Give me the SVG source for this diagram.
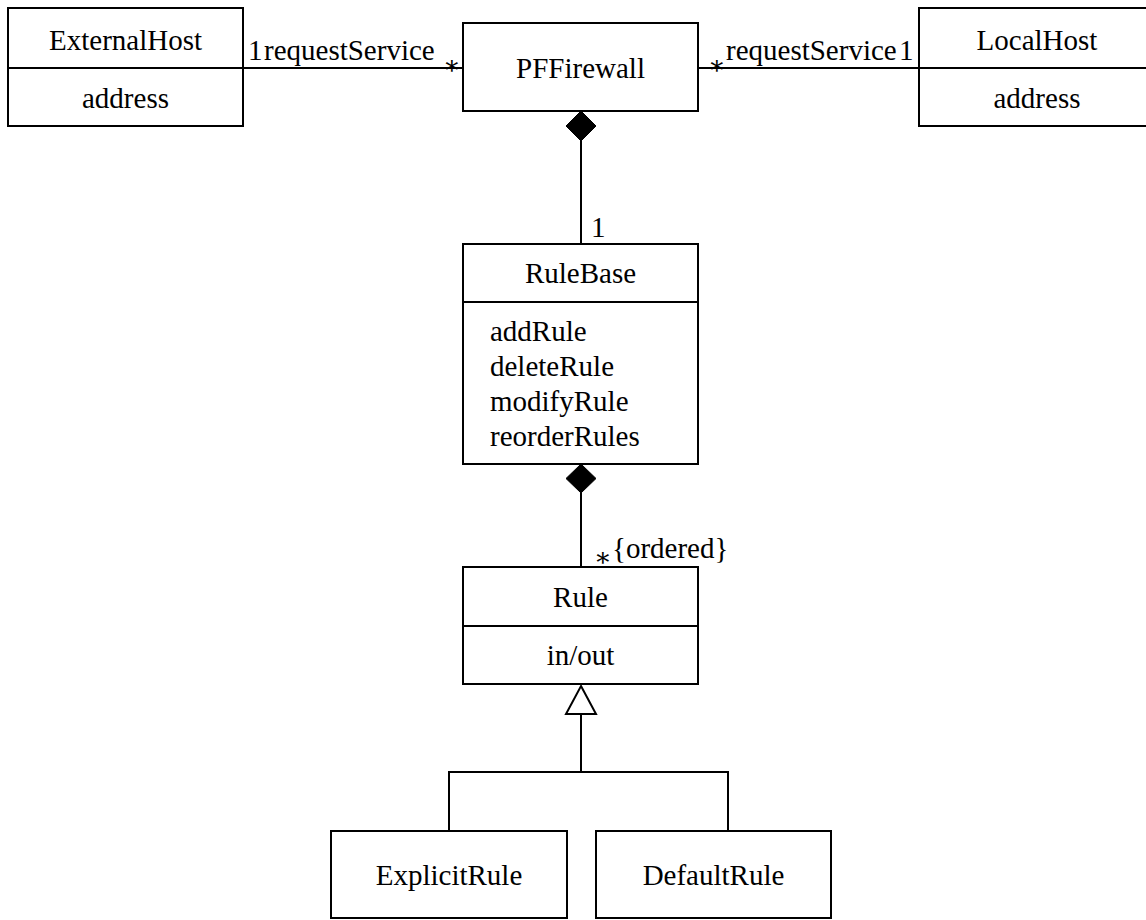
<svg xmlns="http://www.w3.org/2000/svg" width="1146" height="920" viewBox="0 0 1146 920">
<style>
.box{fill:#fff;stroke:#000;stroke-width:2}
.ln{fill:none;stroke:#000;stroke-width:2}
text{font-size:29px;fill:#000}
.c{text-anchor:middle}
.ast{font-size:26px}
</style>
<rect width="1146" height="920" fill="#fff"/>
<g font-family="Liberation Serif, Times New Roman, DejaVu Serif, serif">
<g id="connectors">
<line class="ln" x1="243" y1="68" x2="463" y2="68"/>
<line class="ln" x1="698" y1="68" x2="919" y2="68"/>
<line class="ln" x1="581" y1="141" x2="581" y2="244"/>
<polygon points="581,111 596,126 581,141 566,126" fill="#000" stroke="#000" stroke-width="1"/>
<line class="ln" x1="581" y1="493" x2="581" y2="567"/>
<polygon points="581,464 596,478.5 581,493 566,478.5" fill="#000" stroke="#000" stroke-width="1"/>
<polyline class="ln" points="449,831 449,772 728,772 728,831"/>
<line class="ln" x1="581" y1="714" x2="581" y2="772"/>
<polygon points="581,686 596,714 566,714" fill="#fff" stroke="#000" stroke-width="2"/>
<text x="248" y="60">1</text>
<text x="264" y="60">requestService</text>
<text class="ast" x="443" y="74">∗</text>
<text class="ast" x="708" y="74">∗</text>
<text x="726" y="60">requestService</text>
<text x="899" y="60">1</text>
<text x="591" y="237">1</text>
<text class="ast" x="594" y="566">∗</text>
<text x="612" y="558">{ordered}</text>
</g>
<g id="ExternalHost">
<rect class="box" x="8" y="8" width="235" height="118"/>
<line class="ln" x1="8" y1="68" x2="243" y2="68"/>
<text class="c" x="125.5" y="50">ExternalHost</text>
<text class="c" x="125.5" y="108">address</text>
</g>
<g id="PFFirewall">
<rect class="box" x="463" y="23" width="235" height="88"/>
<text class="c" x="580.5" y="78">PFFirewall</text>
</g>
<g id="LocalHost">
<rect class="box" x="919" y="8" width="236" height="118"/>
<line class="ln" x1="919" y1="68" x2="1155" y2="68"/>
<text class="c" x="1037" y="50">LocalHost</text>
<text class="c" x="1037" y="108">address</text>
</g>
<g id="RuleBase">
<rect class="box" x="463" y="244" width="235" height="220"/>
<line class="ln" x1="463" y1="302" x2="698" y2="302"/>
<text class="c" x="580.5" y="283">RuleBase</text>
<text x="490" y="341">addRule</text>
<text x="490" y="376">deleteRule</text>
<text x="490" y="411">modifyRule</text>
<text x="490" y="446">reorderRules</text>
</g>
<g id="Rule">
<rect class="box" x="463" y="567" width="235" height="117"/>
<line class="ln" x1="463" y1="626" x2="698" y2="626"/>
<text class="c" x="580.5" y="607">Rule</text>
<text class="c" x="580.5" y="665">in/out</text>
</g>
<g id="ExplicitRule">
<rect class="box" x="331" y="831" width="236" height="87"/>
<text class="c" x="449" y="885">ExplicitRule</text>
</g>
<g id="DefaultRule">
<rect class="box" x="596" y="831" width="235" height="87"/>
<text class="c" x="713.5" y="885">DefaultRule</text>
</g>
</g>
</svg>
